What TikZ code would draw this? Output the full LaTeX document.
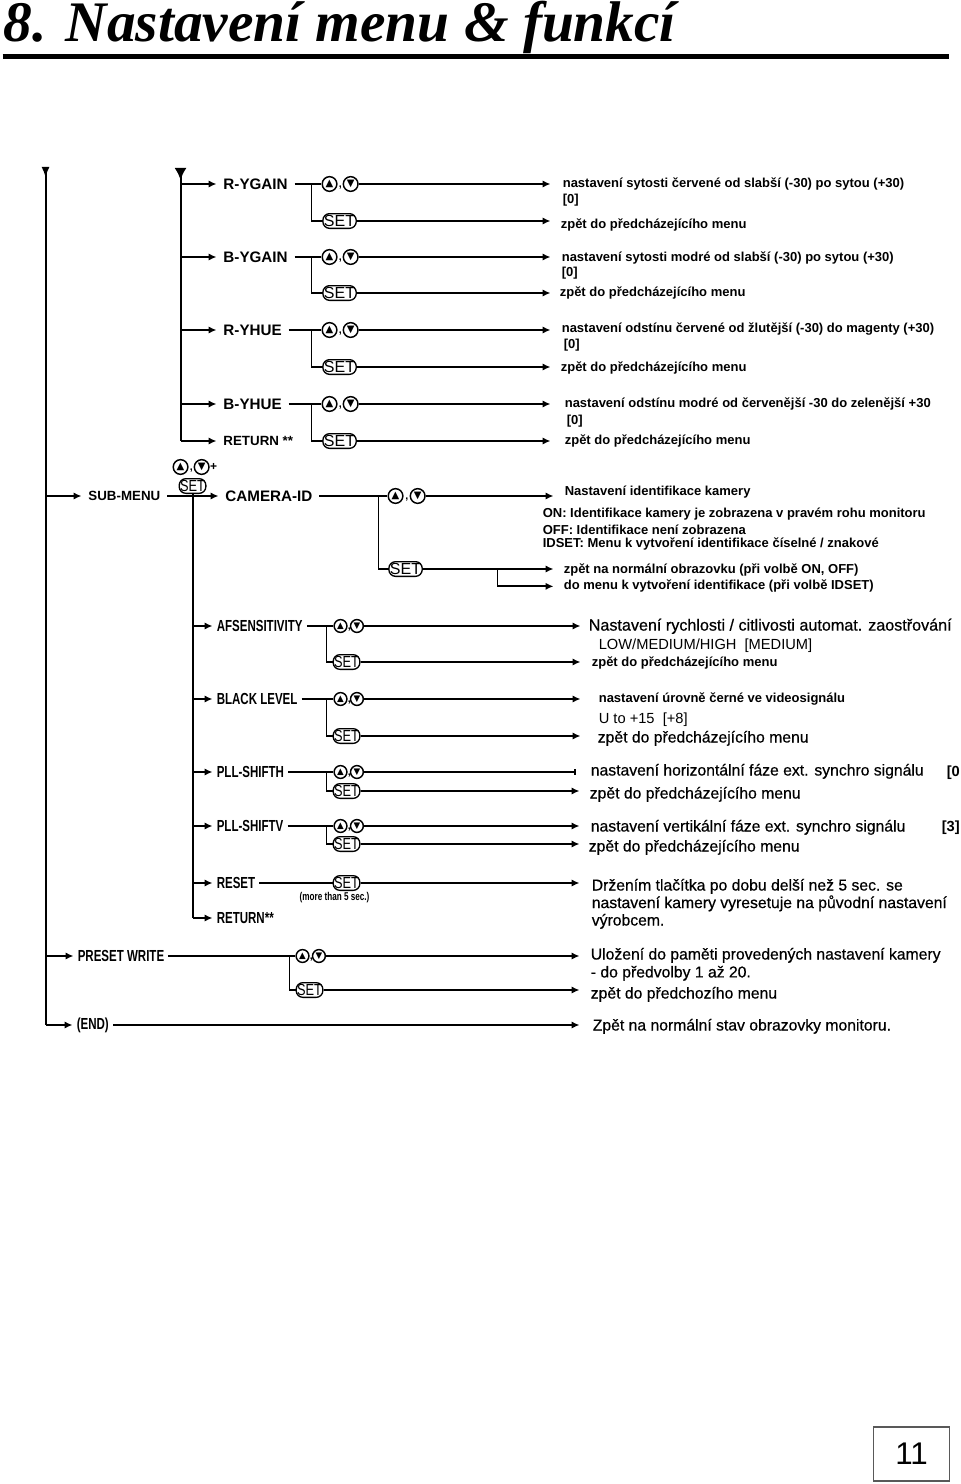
\documentclass[tikz,border=0pt]{standalone}
\usepackage{fontspec}
\setmainfont{Liberation Sans}
\newfontfamily\titlefont{Liberation Serif}
\newfontfamily\semifont[FakeBold=0.5]{Liberation Sans}
\newfontfamily\narrowfont[FakeStretch=0.72]{Liberation Sans}
\newfontfamily\setfont[FakeStretch=0.8]{Liberation Sans}
\newfontfamily\symfont{DejaVu Sans}
\usetikzlibrary{arrows.meta, positioning}

\begin{document}
\begin{tikzpicture}[
    x=0.75pt, y=-0.75pt,
    trunk/.style={line width=1.5pt},
    arrow/.style={line width=1.3pt, -{Latex[length=6pt, width=5.5pt]}},
    link/.style={line width=1.3pt},
    menu/.style={anchor=west, inner xsep=5pt, inner ysep=0pt, font=\bfseries\fontsize{11.4}{13}\selectfont},
    thin menu/.style={anchor=west, inner xsep=3pt, inner ysep=0pt, font=\narrowfont\bfseries\fontsize{12}{14}\selectfont},
    desc/.style={anchor=west, inner xsep=#1*0.75pt, inner ysep=0pt, yshift=-1pt, font=\bfseries\fontsize{9.75}{11}\selectfont},
    wide/.style={anchor=west, inner xsep=#1*0.75pt, inner ysep=0pt, yshift=-1pt, font=\semifont\fontsize{11.8}{13}\selectfont},
    plain/.style={anchor=west, inner sep=0pt, yshift=-1pt, font=\fontsize{11}{13}\selectfont},
    updn/.style={circle, draw, line width=1.1pt, minimum size=11pt, inner sep=0pt, font=\symfont\fontsize{7.5}{8}\selectfont},
    small updn/.style={updn, minimum size=9.6pt, font=\symfont\fontsize{6.5}{7}\selectfont},
    comma/.style={inner sep=0pt, font=\bfseries\fontsize{8}{8}\selectfont},
    setkey/.style={draw, rounded corners=5pt, line width=1pt, minimum width=25pt, minimum height=11pt, inner sep=0pt, font=\fontsize{12}{12}\selectfont},
    small setkey/.style={setkey, minimum width=20pt, font=\setfont\fontsize{12}{12}\selectfont}
]
% heading and page number
\node[anchor=base west, inner sep=0pt, font=\titlefont\bfseries\itshape\fontsize{43}{43}\selectfont] (title) at (3,42) {8. Nastavení menu \& funkcí};
\coordinate (ruleL) at (2,56.5);
\coordinate (ruleR) at (948,56.5);
\draw[line width=3.8pt] (ruleL) -- (ruleR);
\node[draw=black!65, line width=1pt, minimum width=57pt, minimum height=40.5pt, inner sep=0pt, font=\fontsize{23.5}{25}\selectfont] (page) at (911,1454) {11};

% trunks
\coordinate (mainT) at (45,167);
\coordinate (mainB) at (45,1025);
\coordinate (gainT) at (180,168);
\coordinate (gainB) at (180,441);
\draw[trunk, {Latex[reversed, length=8pt, width=6pt]}-] (mainT) -- (mainB);
\draw[trunk, {Latex[reversed, length=9pt, width=9pt]}-] (gainT) -- (gainB);

% text at the right
\node[desc=12] (ryg) at (550,183) {nastavení sytosti červené od slabší (-30) po sytou (+30)};
\node[desc=12] (rygv) at (550,199) {[0]};
\node[desc=10] (rygb) at (550,224) {zpět do předcházejícího menu};
\node[desc=11] (byg) at (550,257) {nastavení sytosti modré od slabší (-30) po sytou (+30)};
\node[desc=11] (bygv) at (550,272) {[0]};
\node[desc=9] (bygb) at (550,292) {zpět do předcházejícího menu};
\node[desc=11] (rhu) at (550,328) {nastavení odstínu červené od žlutější (-30) do magenty (+30)};
\node[desc=13] (rhuv) at (550,344) {[0]};
\node[desc=10] (rhub) at (550,367) {zpět do předcházejícího menu};
\node[desc=14] (bhu) at (550,403) {nastavení odstínu modré od červenější -30 do zelenější +30};
\node[desc=16] (bhuv) at (550,420) {[0]};
\node[desc=14] (bhub) at (550,440) {zpět do předcházejícího menu};
\node[desc=11] (cam) at (553,491) {Nastavení identifikace kamery};
\node[desc=0] (camon) at (542,513) {ON: Identifikace kamery je zobrazena v pravém rohu monitoru};
\node[desc=0] (camoff) at (542,528) {OFF: Identifikace není zobrazena};
\node[desc=0] (camid) at (542,543) {IDSET: Menu k vytvoření identifikace číselné / znakové};
\node[desc=10] (camb) at (553,569) {zpět na normální obrazovku (při volbě ON, OFF)};
\node[desc=10] (camd) at (553,585) {do menu k vytvoření identifikace (při volbě IDSET)};
\node[wide=8, font=\semifont\fontsize{12.1}{13}\selectfont] (af) at (580,625) {Nastavení rychlosti / citlivosti automat. zaostřování};
\node[plain] (afv) at (598,644) {LOW/MEDIUM/HIGH\ \ [MEDIUM]};
\node[desc=11] (afb) at (580,662) {zpět do předcházejícího menu};
\node[desc=18] (bl) at (580,698) {nastavení úrovně černé ve videosignálu};
\node[plain] (blv) at (598,718) {U to +15\ \ [+8]};
\node[wide=17] (blb) at (580,737) {zpět do předcházejícího menu};
\node[wide=15] (sh) at (575,770) {nastavení horizontální fáze ext. synchro signálu};
\node[desc=0, font=\bfseries\fontsize{11}{12}\selectfont] (shv) at (946,771) {[0};
\node[wide=10] (shb) at (579,793) {zpět do předcházejícího menu};
\node[wide=11] (sv) at (579,826) {nastavení vertikální fáze ext. synchro signálu};
\node[desc=0, font=\bfseries\fontsize{11}{12}\selectfont] (svv) at (941,826) {[3]};
\node[wide=9] (svb) at (579,846) {zpět do předcházejícího menu};
\node[wide=12] (rs) at (579,885) {Držením tlačítka po dobu delší než 5 sec. se};
\node[wide=0] (rsm) at (591,902) {nastavení kamery vyresetuje na původní nastavení};
\node[wide=0] (rse) at (591,920) {výrobcem.};
\node[wide=11] (pw) at (579,954) {Uložení do paměti provedených nastavení kamery};
\node[wide=0] (pwm) at (590,972) {- do předvolby 1 až 20.};
\node[wide=11] (pwb) at (579,993) {zpět do předchozího menu};
\node[wide=13] (nd) at (579,1025) {Zpět na normální stav obrazovky monitoru.};

% upper group
\foreach \id/\txt/\y/\ys in {ryg/R-YGAIN/184/221, byg/B-YGAIN/257/293, rhu/R-YHUE/330/367, bhu/B-YHUE/404/441}{
    \node[menu] (\id L) at (216,\y) {\txt};
    \node[updn] (\id up) at (329,\y) {▲};
    \node[updn, right=3.75pt of \id up] (\id dn) {▼};
    \node[comma, right=0.8pt of \id up, yshift=-3pt] (\id cm) {,};
    \node[setkey] (\id set) at (339,\ys) {SET};
    \coordinate (\id J) at (311,\y);
    \draw[arrow] (gainT |- \id L.west) -- (\id L.west);
    \draw[link] (\id L.east) -- (\id up);
    \draw[link] (\id J) |- (\id set);
    \draw[arrow] (\id dn) -- (\id dn -| \id.west);
    \draw[arrow] (\id set) -- (\id set -| \id b.west);
}
\node[menu, font=\bfseries\fontsize{10}{12}\selectfont] (retA) at (216,441) {RETURN **};
\draw[arrow] (gainB) -- (retA.west);

% sub menu
\node[menu, font=\bfseries\fontsize{10}{12}\selectfont] (sub) at (81,496) {SUB-MENU};
\node[menu] (camL) at (218,496) {CAMERA-ID};
\node[updn] (subup) at (180,467) {▲};
\node[updn, right=3.75pt of subup] (subdn) {▼};
\node[comma, right=0.8pt of subup, yshift=-3pt] (subcm) {,};
\node[inner sep=0pt, font=\bfseries\fontsize{9}{10}\selectfont] (subpl) at (213,467) {+};
\node[small setkey, fill=white] (subset) at (192,486) {SET};
\draw[arrow] (mainT |- sub.west) -- (sub.west);
\draw[arrow] (sub.east) -- (camL.west);

\node[updn] (camup) at (395,496) {▲};
\node[updn, right=4.5pt of camup] (camdn) {▼};
\node[comma, right=1.2pt of camup, yshift=-3pt] (camcm) {,};
\node[setkey] (camset) at (405,569) {SET};
\coordinate (camJ) at (378,496);
\coordinate (camT) at (497,569);
\draw[link] (camL.east) -- (camup);
\draw[link] (camJ) |- (camset);
\draw[arrow] (camdn) -- (camdn -| cam.west);
\draw[arrow] (camset) -- (camset -| camb.west);
\draw[arrow] (camT) |- (camd.west);

% sub menu group
\coordinate (subB) at (192,918);
\draw[trunk] (subset) -- (subB);
\foreach \id/\txt/\y/\ys in {af/AFSENSITIVITY/626/662, bl/BLACK LEVEL/699/736, sh/PLL-SHIFTH/772/791, sv/PLL-SHIFTV/826/844}{
    \node[thin menu] (\id L) at (212,\y) {\txt};
    \node[small updn] (\id up) at (340,\y) {▲};
    \node[small updn, right=1.6pt of \id up] (\id dn) {▼};
    \node[comma, right=0pt of \id up, yshift=-3pt] (\id cm) {,};
    \node[small setkey] (\id set) at (346,\ys) {SET};
    \coordinate (\id J) at (326,\y);
    \draw[arrow] (subB |- \id L.west) -- (\id L.west);
    \draw[link] (\id L.east) -- (\id up);
    \draw[link] (\id J) |- (\id set);
    \draw[arrow] (\id set) -- (\id set -| \id b.west);
}
\foreach \id in {af, bl, sv}
    \draw[arrow] (\id dn) -- (\id dn -| \id.west);
\draw[link, -{Bar[width=4pt]}] (shdn) -- (shdn -| sh.west);

\node[thin menu] (rsL) at (212,883) {RESET};
\node[small setkey] (rsset) at (346,883) {SET};
\node[inner sep=0pt, font=\narrowfont\bfseries\fontsize{8.5}{10}\selectfont] (rsnote) at (334,898) {(more than 5 sec.)};
\node[thin menu] (retB) at (212,918) {RETURN**};
\draw[arrow] (subB |- rsL.west) -- (rsL.west);
\draw[link] (rsL.east) -- (rsset);
\draw[arrow] (rsset) -- (rsset -| rs.west);
\draw[arrow] (subB) -- (retB.west);

% lower group
\node[thin menu] (pwL) at (73,956) {PRESET WRITE};
\node[small updn] (pwup) at (302,956) {▲};
\node[small updn, right=1.6pt of pwup] (pwdn) {▼};
\node[comma, right=0pt of pwup, yshift=-3pt] (pwcm) {,};
\node[small setkey] (pwset) at (309,990) {SET};
\coordinate (pwJ) at (289,956);
\draw[arrow] (mainT |- pwL.west) -- (pwL.west);
\draw[link] (pwL.east) -- (pwup);
\draw[link] (pwJ) |- (pwset);
\draw[arrow] (pwdn) -- (pwdn -| pw.west);
\draw[arrow] (pwset) -- (pwset -| pwb.west);

\node[thin menu] (ndL) at (72,1025) {(END)};
\draw[arrow] (mainB) -- (ndL.west);
\draw[arrow] (ndL.east) -- (ndL.east -| nd.west);

\useasboundingbox (0,0) rectangle (960,1484);
\end{tikzpicture}
\end{document}
